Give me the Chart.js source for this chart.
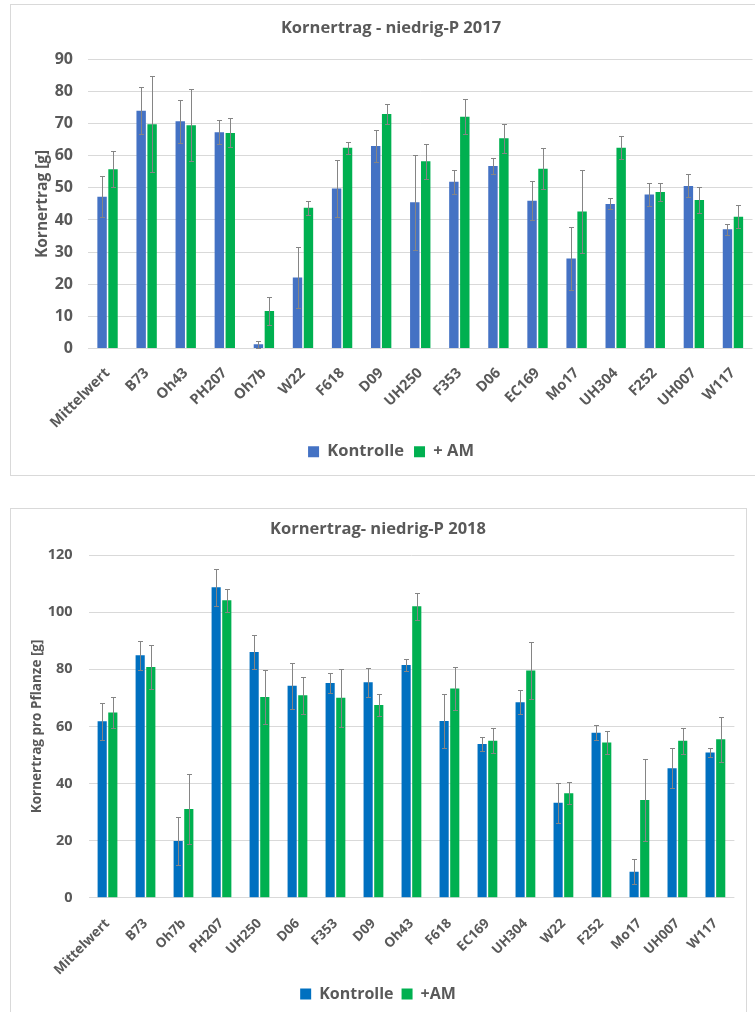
<!DOCTYPE html>
<html>
<head>
<meta charset="utf-8">
<title>Kornertrag niedrig-P 2017 / 2018</title>
<script src="https://cdn.jsdelivr.net/npm/chart.js@4.4.1/dist/chart.umd.min.js"></script>
<style>
  html, body { margin: 0; padding: 0; background: #fff; width: 755px; height: 1012px; overflow: hidden; position: relative; }
  .frame { position: absolute; border: 1px solid #d9d9d9; box-sizing: border-box; }
  #frame1 { left: 10px; top: 4px; width: 780px; height: 472px; }
  #frame2 { left: 10px; top: 508px; width: 737px; height: 530px; }
  canvas { position: absolute; }
  #c1 { left: 11px; top: 5px; }
  #c2 { left: 11px; top: 509px; }
</style>
</head>
<body>
<div class="frame" id="frame1"></div>
<div class="frame" id="frame2"></div>
<canvas id="c1" width="760" height="469" style="width:760px;height:469px"></canvas>
<canvas id="c2" width="734" height="503" style="width:734px;height:503px"></canvas>
<script>
// ---- 2017: grain yield per line, control vs. +AM (mean ± error) ----
const lines2017 = ['Mittelwert', 'B73', 'Oh43', 'PH207', 'Oh7b', 'W22', 'F618', 'D09', 'UH250',
                   'F353', 'D06', 'EC169', 'Mo17', 'UH304', 'F252', 'UH007', 'W117'];
const kontrolle2017    = [47.2, 74.0, 70.7, 67.3, 1.3, 22.1, 49.8, 63.0, 45.5, 51.9, 56.8, 46.0, 28.0, 45.0, 47.9, 50.6, 37.1];
const kontrolleErr2017 = [6.4, 7.4, 6.6, 3.8, 1.0, 9.6, 9.0, 5.1, 14.8, 3.7, 2.6, 6.1, 9.9, 1.7, 3.6, 3.6, 1.8];
const am2017           = [55.8, 69.8, 69.5, 67.1, 11.7, 43.8, 62.5, 73.0, 58.3, 72.1, 65.4, 55.9, 42.6, 62.5, 48.7, 46.2, 41.0];
const amErr2017        = [5.6, 14.9, 11.3, 4.5, 4.4, 2.2, 1.9, 3.2, 5.4, 5.4, 4.6, 6.4, 12.9, 3.6, 2.9, 4.1, 3.6];

// ---- 2018: grain yield per plant ----
const lines2018 = ['Mittelwert', 'B73', 'Oh7b', 'PH207', 'UH250', 'D06', 'F353', 'D09', 'Oh43',
                   'F618', 'EC169', 'UH304', 'W22', 'F252', 'Mo17', 'UH007', 'W117'];
const kontrolle2018    = [61.8, 84.9, 19.9, 108.7, 86.1, 74.2, 75.2, 75.5, 81.5, 61.9, 53.8, 68.5, 33.3, 57.8, 9.1, 45.3, 50.9];
const kontrolleErr2018 = [6.5, 5.1, 8.5, 6.4, 5.9, 8.0, 3.6, 5.1, 2.0, 9.6, 2.4, 4.1, 7.0, 2.6, 4.4, 7.0, 1.5];
const am2018           = [64.9, 80.8, 31.1, 104.2, 70.3, 70.9, 70.0, 67.5, 102.1, 73.3, 55.0, 79.6, 36.6, 54.4, 34.2, 55.0, 55.5];
const amErr2018        = [5.5, 7.7, 12.4, 4.0, 9.6, 6.5, 10.2, 3.9, 4.7, 7.5, 4.3, 10.0, 3.8, 4.0, 14.5, 4.6, 7.9];

const FONT = "'Open Sans', 'DejaVu Sans', sans-serif";
const TEXT = '#595959';
const GRID = '#d9d9d9';

// Draws ± error whiskers on top of every bar, using the bar elements and the y scale.
const errorBars = {
  id: 'errorBars',
  afterDatasetsDraw(chart, args, opts) {
    const ctx = chart.ctx;
    const yScale = chart.scales.y;
    chart.data.datasets.forEach((ds, i) => {
      const meta = chart.getDatasetMeta(i);
      if (meta.hidden || !ds.errors) return;
      meta.data.forEach((bar, j) => {
        const v = ds.data[j], e = ds.errors[j];
        const x = Math.round(bar.x) + 0.5;
        const yTop = Math.round(yScale.getPixelForValue(v + e)) + 0.5;
        const yBot = Math.round(yScale.getPixelForValue(Math.max(v - e, 0))) + 0.5;
        ctx.save();
        ctx.strokeStyle = opts.color;
        ctx.lineWidth = 1;
        ctx.beginPath();
        ctx.moveTo(x, yTop); ctx.lineTo(x, yBot);
        ctx.moveTo(x - opts.cap, yTop); ctx.lineTo(x + opts.cap, yTop);
        ctx.moveTo(x - opts.cap, yBot); ctx.lineTo(x + opts.cap, yBot);
        ctx.stroke();
        ctx.restore();
      });
    });
  }
};

function makeChart(id, cfg) {
  return new Chart(document.getElementById(id), {
    type: 'bar',
    data: {
      labels: cfg.labels,
      datasets: [
        { label: cfg.names[0], data: cfg.series[0], errors: cfg.errors[0],
          backgroundColor: cfg.colors[0], categoryPercentage: 0.56, barPercentage: 0.86 },
        { label: cfg.names[1], data: cfg.series[1], errors: cfg.errors[1],
          backgroundColor: cfg.colors[1], categoryPercentage: 0.56, barPercentage: 0.86 }
      ]
    },
    options: {
      responsive: false,
      animation: false,
      layout: { padding: { left: 0, right: 0, top: 0, bottom: cfg.padBottom } },
      plugins: {
        title: {
          display: true, text: cfg.title, color: TEXT,
          font: { family: FONT, size: 16.5, weight: 'bold' },
          padding: cfg.titlePad
        },
        legend: {
          position: 'bottom',
          labels: {
            color: TEXT, boxWidth: 11, boxHeight: 11, padding: cfg.legendPad,
            font: { family: FONT, size: cfg.legendSize, weight: 'bold' }
          }
        },
        tooltip: { enabled: false },
        errorBars: { color: '#858585', cap: 2.5 }
      },
      scales: {
        x: {
          grid: { display: false },
          border: { display: false },
          ticks: {
            color: TEXT, minRotation: 45, maxRotation: 45, autoSkip: false, padding: cfg.xPad,
            font: { family: FONT, size: cfg.xSize, weight: 'bold' }
          },
          afterFit(s) { s.height = cfg.xHeight; }
        },
        y: {
          min: 0, max: cfg.max,
          grid: { color: GRID, lineWidth: 1, drawTicks: false },
          border: { display: false },
          ticks: {
            stepSize: cfg.step, color: TEXT, padding: cfg.tickPad,
            font: { family: FONT, size: cfg.ySize, weight: 'bold' }
          },
          title: {
            display: true, text: cfg.yTitle, color: TEXT,
            font: { family: FONT, size: cfg.yTitleSize, weight: 'bold' },
            padding: { top: cfg.yTitlePad, bottom: 0 }
          },
          afterFit(s) { s.width = cfg.yWidth; }
        },
        yRight: {
          position: 'right', display: true,
          grid: { display: false }, border: { display: false },
          ticks: { display: false },
          afterFit(s) { s.width = cfg.rightGap; }
        }
      }
    },
    plugins: [errorBars]
  });
}

makeChart('c1', {
  labels: lines2017,
  names: ['Kontrolle', '+ AM'],
  series: [kontrolle2017, am2017],
  errors: [kontrolleErr2017, amErr2017],
  colors: ['#4472C4', '#00B050'],
  title: 'Kornertrag - niedrig-P 2017',
  titlePad: { top: 13.5, bottom: 21 },
  yTitle: 'Kornertrag [g]',
  yTitleSize: 15.5,
  yTitlePad: 22.7,
  max: 90, step: 10,
  ySize: 16,
  tickPad: 15,
  yWidth: 77,
  rightGap: 18.5,
  xSize: 14.5,
  xPad: 8,
  xHeight: 85,
  legendSize: 16.5,
  legendPad: 10,
  padBottom: 4
});

makeChart('c2', {
  labels: lines2018,
  names: ['Kontrolle', '+AM'],
  series: [kontrolle2018, am2018],
  errors: [kontrolleErr2018, amErr2018],
  colors: ['#0070C0', '#00B050'],
  title: 'Kornertrag- niedrig-P 2018',
  titlePad: { top: 10, bottom: 16.3 },
  yTitle: 'Kornertrag pro Pflanze [g]',
  yTitleSize: 13.5,
  yTitlePad: 17.9,
  max: 120, step: 20,
  ySize: 14.5,
  tickPad: 16,
  yWidth: 77.5,
  rightGap: 10.6,
  xSize: 13.5,
  xPad: 10,
  xHeight: 80.3,
  legendSize: 16,
  legendPad: 8,
  padBottom: 0
});
</script>
</body>
</html>
